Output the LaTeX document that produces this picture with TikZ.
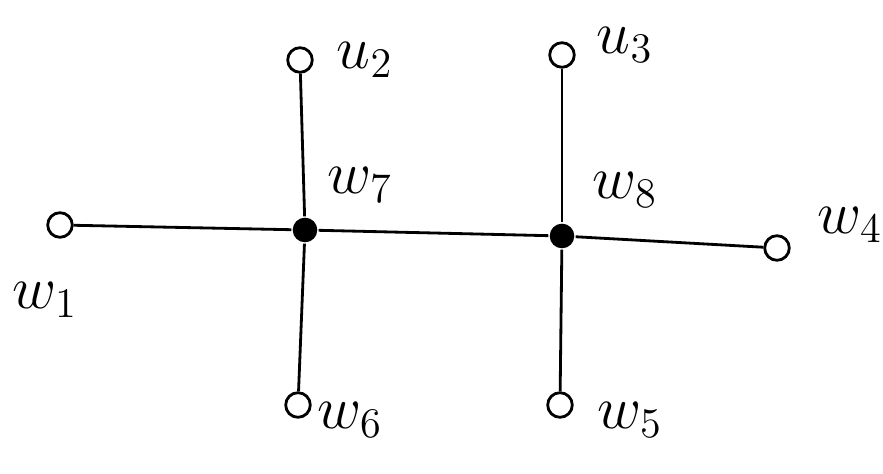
\documentclass[tikz,border=0pt]{standalone}
\usepackage{amsmath}
\usepackage{tikz}
\usepackage{xcolor}

\begin{document}
\begin{tikzpicture}[thick, >=stealth,
    leaf/.style={circle, draw, inner sep=0pt, minimum size=7pt},
    hub/.style={circle, fill, inner sep=0pt, minimum size=7pt},
    lbl/.style={font=\LARGE}]
    \useasboundingbox (0,0) rectangle (8.83,4.74);
    \node[leaf] (w1) at (0.60,2.49) {};
    \node[hub]  (w7) at (3.05,2.44) {};
    \node[hub]  (w8) at (5.62,2.38) {};
    \node[leaf] (w4) at (7.77,2.26) {};
    \node[leaf] (u2) at (3.00,4.14) {};
    \node[leaf] (u3) at (5.62,4.19) {};
    \node[leaf] (w6) at (2.98,0.69) {};
    \node[leaf] (w5) at (5.60,0.69) {};
    \draw (w1) -- (w7);
    \draw (w7) -- (w8);
    \draw (w8) -- (w4);
    \draw (w7) -- (u2);
    \draw (w7) -- (w6);
    \draw (w8) -- (u3);
    \draw (w8) -- (w5);
    \node[lbl] (lu2) at (3.65,4.14) {$u_2$};
    \node[lbl] (lu3) at (6.25,4.29) {$u_3$};
    \node[lbl] (lw7) at (3.60,2.89) {$w_7$};
    \node[lbl] (lw8) at (6.25,2.84) {$w_8$};
    \node[lbl] (lw4) at (8.50,2.49) {$w_4$};
    \node[lbl] (lw1) at (0.45,1.74) {$w_1$};
    \node[lbl] (lw6) at (3.50,0.54) {$w_6$};
    \node[lbl] (lw5) at (6.30,0.54) {$w_5$};
\end{tikzpicture}
\end{document}
